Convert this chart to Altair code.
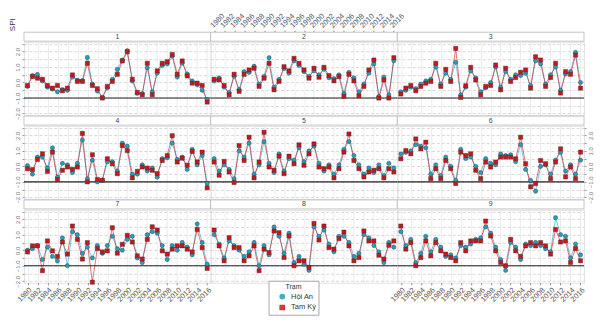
import altair as alt
import pandas as pd

years = list(range(1980, 2017))
stations = ["Hội An", "Tam Kỳ"]
panels = ["1", "2", "3", "4", "5", "6", "7", "8", "9"]
tick_years = list(range(1980, 2017, 2))
grid_values = [-2, -1.5, -1, -0.5, 0, 0.5, 1, 1.5, 2, 2.5]
threshold = [-1.0]

hoi_an = {
    "1": [-0.25,0.45,0.52,0.1,-0.3,-0.42,-0.6,-0.45,-0.5,0.35,0.15,0.12,1.62,-0.1,-0.55,-0.95,-0.35,0.2,0.85,1.45,2.05,0.1,-0.7,-0.72,0.95,-0.6,0.6,1.1,1.2,1.7,0.35,1.25,0.55,0.1,-0.15,-0.5,-1.1],
    "2": [0.1,0.3,-0.3,-0.65,0.4,-0.45,0.7,0.65,1.05,-0.1,0.4,1.6,-0.3,0.2,0.9,0.6,1.4,1.1,0.7,0.4,0.75,0.5,0.85,0.3,0.25,0.5,-0.7,0.65,0.3,-0.6,-0.1,0.6,1.2,-0.9,0.35,-0.8,1.4],
    "3": [-0.6,-0.5,-0.3,-0.4,-0.1,0.1,0.2,1.0,-0.1,0.6,0.2,1.3,-0.8,-0.3,0.75,0.3,-0.6,-0.35,0.0,1.0,-0.3,0.7,0.2,0.5,0.45,0.6,-0.2,1.4,1.2,-0.1,0.5,1.0,-0.5,0.55,0.7,1.95,0.0],
    "4": [0.05,-0.5,0.6,0.6,-0.1,1.2,-0.7,0.2,0.1,-0.4,0.2,1.7,-0.8,0.4,-1.0,-0.9,0.3,0.3,-0.3,1.5,1.3,-0.5,-0.5,0.1,-0.3,-0.1,-0.7,0.5,0.55,1.5,0.45,0.6,-0.2,1.1,0.1,0.7,-1.1],
    "5": [0.5,-0.3,0.1,-0.2,-0.8,1.0,0.6,1.5,-0.5,0.1,1.6,0.2,-0.4,0.8,-0.3,0.5,0.4,1.2,0.3,1.0,1.3,0.2,-0.3,0.1,-0.5,0.1,1.1,1.6,0.7,0.1,-0.5,-0.1,-0.4,0.1,-0.6,0.2,-0.1],
    "6": [0.8,0.9,1.0,1.4,1.3,1.2,-0.5,0.1,-0.6,0.6,0.0,-0.9,1.1,0.5,0.6,0.0,-0.4,0.5,0.2,0.1,0.8,0.7,0.75,0.3,1.4,-0.2,-0.9,-1.6,0.0,0.1,-0.5,0.4,0.9,-0.3,0.1,-0.5,0.4],
    "7": [0.0,0.1,0.3,-0.6,0.2,-0.4,-0.7,0.8,-1.0,1.2,1.0,-0.2,0.2,-0.5,0.3,-0.2,0.3,0.9,0.1,0.0,0.7,0.9,-0.5,-0.8,1.0,1.2,1.1,0.3,-0.6,0.3,0.0,0.5,0.2,-0.3,1.7,0.5,-0.9],
    "8": [1.0,0.4,-0.5,0.6,0.3,0.0,-0.4,-0.1,0.5,-1.0,0.3,-0.3,1.5,0.9,-0.2,1.1,-0.8,-0.4,-0.9,-1.3,1.5,0.9,1.3,0.4,-0.1,0.9,0.9,0.5,-0.4,-0.2,1.0,0.8,0.3,-0.1,-0.8,0.5,0.2],
    "9": [1.2,0.3,0.7,-0.8,-0.2,0.9,-0.1,0.7,0.2,-0.4,-0.3,-0.5,0.3,0.2,0.4,0.7,0.8,1.5,1.1,0.2,-0.6,-1.3,0.5,0.2,-0.6,0.4,0.3,0.5,0.3,0.1,-0.1,2.1,1.0,0.9,-0.5,0.4,-0.3],
}
tam_ky = {
    "1": [-0.19,0.38,0.28,0.21,-0.19,-0.36,-0.19,-0.53,-0.36,0.49,0.07,0.07,1.24,-0.19,-0.4,-1.0,-0.25,0.07,0.53,1.39,1.98,0.21,-0.64,-0.79,1.24,-0.79,0.75,1.24,1.34,1.81,0.53,1.39,0.43,-0.04,-0.04,-0.19,-1.26],
    "2": [0.21,0.17,-0.19,-0.79,0.53,-0.57,0.53,0.81,0.92,-0.25,0.28,1.24,-0.47,0.07,1.02,0.75,1.56,1.24,0.81,0.28,0.92,0.34,0.98,0.45,0.11,0.38,-0.89,0.53,0.11,-0.85,-0.25,0.81,1.45,-1.0,0.17,-1.0,1.6],
    "3": [-0.74,-0.36,-0.19,-0.53,-0.25,-0.04,0.07,1.24,-0.25,0.85,0.07,2.2,-0.96,-0.21,0.98,0.17,-0.79,-0.25,-0.19,1.13,-0.47,0.92,0.07,0.32,0.66,0.81,-0.36,1.66,1.45,-0.25,0.32,1.24,-0.68,0.7,0.53,1.77,-0.36],
    "4": [-0.15,-0.21,0.45,0.81,-0.32,0.92,-0.85,-0.25,-0.04,-0.19,-0.04,2.13,-1.0,0.75,-0.85,-0.89,0.49,0.17,-0.47,1.34,1.02,-0.74,-0.32,-0.04,-0.11,-0.25,-0.47,0.38,0.7,1.98,0.28,0.53,0.07,0.96,0.28,0.92,-1.38],
    "5": [0.28,-0.57,0.32,-0.36,-1.04,1.34,0.38,1.88,-0.74,0.28,2.2,-0.04,-0.25,0.66,-0.47,0.66,0.17,1.39,0.07,0.81,1.45,-0.04,-0.15,-0.04,-0.74,-0.15,0.92,2.09,0.38,-0.15,-0.68,-0.36,-0.25,-0.15,-0.74,-0.15,-0.36],
    "6": [0.49,1.02,0.81,1.77,1.13,1.56,-0.79,-0.15,-0.79,0.38,-0.15,-1.11,0.92,0.7,0.81,-0.25,-0.79,0.28,-0.04,0.28,0.6,0.6,0.6,0.49,1.88,0.17,-1.32,-1.11,0.38,0.17,-0.79,0.28,1.13,-0.68,-0.04,-0.79,0.92],
    "7": [-0.11,0.28,0.28,-1.32,0.6,-0.04,-0.4,0.53,-0.25,1.56,0.7,-0.57,0.49,-2.06,0.11,-0.11,-0.04,1.45,-0.19,0.38,0.96,0.53,-0.36,-0.57,0.7,1.51,1.3,-0.04,-0.25,0.07,0.28,0.28,0.07,-0.11,1.34,0.17,-1.17],
    "8": [1.3,0.28,-0.68,0.81,0.17,0.17,-0.68,-0.36,0.28,-1.32,0.07,-0.15,1.24,1.13,-0.47,0.92,-1.0,-0.68,-0.68,-1.11,1.73,0.66,1.56,0.17,0.07,0.75,1.17,0.28,-0.68,-0.47,1.24,0.6,0.6,-0.32,-0.57,0.32,0.6],
    "9": [1.56,0.07,0.49,-1.0,-0.47,0.6,-0.36,0.49,-0.04,-0.25,-0.47,-0.68,0.49,-0.04,0.6,0.6,0.6,1.88,0.92,-0.04,-0.79,-1.0,0.7,-0.04,-0.4,0.28,0.49,0.28,0.49,0.28,-0.25,1.34,0.53,0.6,-0.79,0.11,-0.68],
}

rows = []
for p in panels:
    for st, src in ((stations[0], hoi_an), (stations[1], tam_ky)):
        for yr, v in zip(years, src[p]):
            rows.append({"panel": p, "year": yr, "spi": v, "station": st})
df = pd.DataFrame(rows)
thr_df = pd.DataFrame({"spi": threshold})

W, H = 187, 73
YDOM = [-2.1, 2.6]
XDOM = [1979.3, 2016.7]
FONT = "Liberation Sans"
color_scale = alt.Scale(domain=stations, range=["#1aa3c4", "#c8161d"])
shape_scale = alt.Scale(domain=stations, range=["circle", "square"])
xs = alt.Scale(domain=XDOM, nice=False, zero=False)
ys = alt.Scale(domain=YDOM, nice=False, zero=False)


def x_axis(kind):
    common = dict(values=tick_years, format="d", grid=True, gridColor="#ececec",
                  domain=False, title=None, labelOverlap=False)
    if kind is None:
        return alt.Axis(labels=False, ticks=False, **common)
    return alt.Axis(orient=kind, labelAngle=-45, labelFontSize=7.5, labelColor="#555",
                    tickSize=2, tickColor="#888", labelPadding=1, labelFlush=False,
                    offset=10 if kind == "top" else 0, **common)


def y_axis(kind, spi_title=False):
    common = dict(values=grid_values, grid=True, gridColor="#cfcfcf", gridDash=[3, 2],
                  gridWidth=0.8, domain=False, labelOverlap=False)
    if kind is None:
        return alt.Axis(labels=False, ticks=False, title=None, **common)
    if spi_title:
        extra = dict(title="SPI", titleAngle=-90, titleX=-11, titleY=-18,
                     titleFontSize=8, titleFontWeight="normal", titleColor="#333",
                     titleAlign="center", titleBaseline="middle")
    else:
        extra = dict(title=None)
    return alt.Axis(orient=kind, labelAngle=-90, labelFontSize=6, labelColor="#777",
                    tickSize=2, tickColor="#999", labelPadding=1, labelFlush=False,
                    labelExpr="indexof([-2,-1,0,1,2], datum.value) >= 0 ? format(datum.value, '.1f') : ''",
                    **common, **extra)


def panel(p, xk=None, yk=None, spi=False):
    X = alt.X("year:Q", scale=xs, axis=x_axis(xk))
    Y = alt.Y("spi:Q", scale=ys, axis=y_axis(yk, spi))
    C = alt.Color("station:N", scale=color_scale, title="Trạm")
    base = alt.Chart(df).transform_filter(alt.datum.panel == p)
    lines = base.mark_line(strokeWidth=0.7, opacity=0.85).encode(
        x=X, y=Y, color=C, detail="station:N")
    pts = base.mark_point(filled=True, size=18, stroke="#3a2a2a", strokeWidth=0.4, opacity=1).encode(
        x=X, y=Y, color=C,
        shape=alt.Shape("station:N", scale=shape_scale, title="Trạm"))
    rule = alt.Chart(thr_df).mark_rule(color="#222", strokeWidth=1.2).encode(y=Y)
    lab = pd.DataFrame({"label": [p]})
    strip = alt.Chart(lab).mark_rect(fill="white", stroke="#b5b5b5", strokeWidth=0.8).encode(
        x=alt.value(0), x2=alt.value(W), y=alt.value(-10), y2=alt.value(-1))
    strip_txt = alt.Chart(lab).mark_text(fontSize=7, color="#444", baseline="middle").encode(
        x=alt.value(W / 2), y=alt.value(-5.5), text="label:N")
    return alt.layer(lines, rule, pts, strip, strip_txt).properties(width=W, height=H)


cells = [
    panel("1", None, "left", True), panel("2", "top"), panel("3"),
    panel("4", None, "left"), panel("5"), panel("6", None, "right"),
    panel("7", "bottom", "left"), panel("8"), panel("9", "bottom"),
]

chart = alt.concat(*cells, columns=3, spacing={"row": 11, "column": 0}, bounds="flush").properties(
    padding={"left": 0, "top": 3, "right": 0, "bottom": 0}
).configure(font=FONT).configure_view(stroke="#e2e2e2").configure_legend(
    orient="none", legendX=245, legendY=239, direction="vertical",
    titleFontSize=7, titleFontWeight="normal", labelFontSize=7.5, titleColor="#333",
    labelColor="#333", strokeColor="#aaaaaa", fillColor="white", padding=2,
    symbolSize=18, symbolOffset=8, labelOffset=5, rowPadding=0, titlePadding=3,
    titleAlign="center", titleAnchor="middle", titleBaseline="top",
)

chart.save("out.html", embed_options={"renderer": "svg", "actions": False})
